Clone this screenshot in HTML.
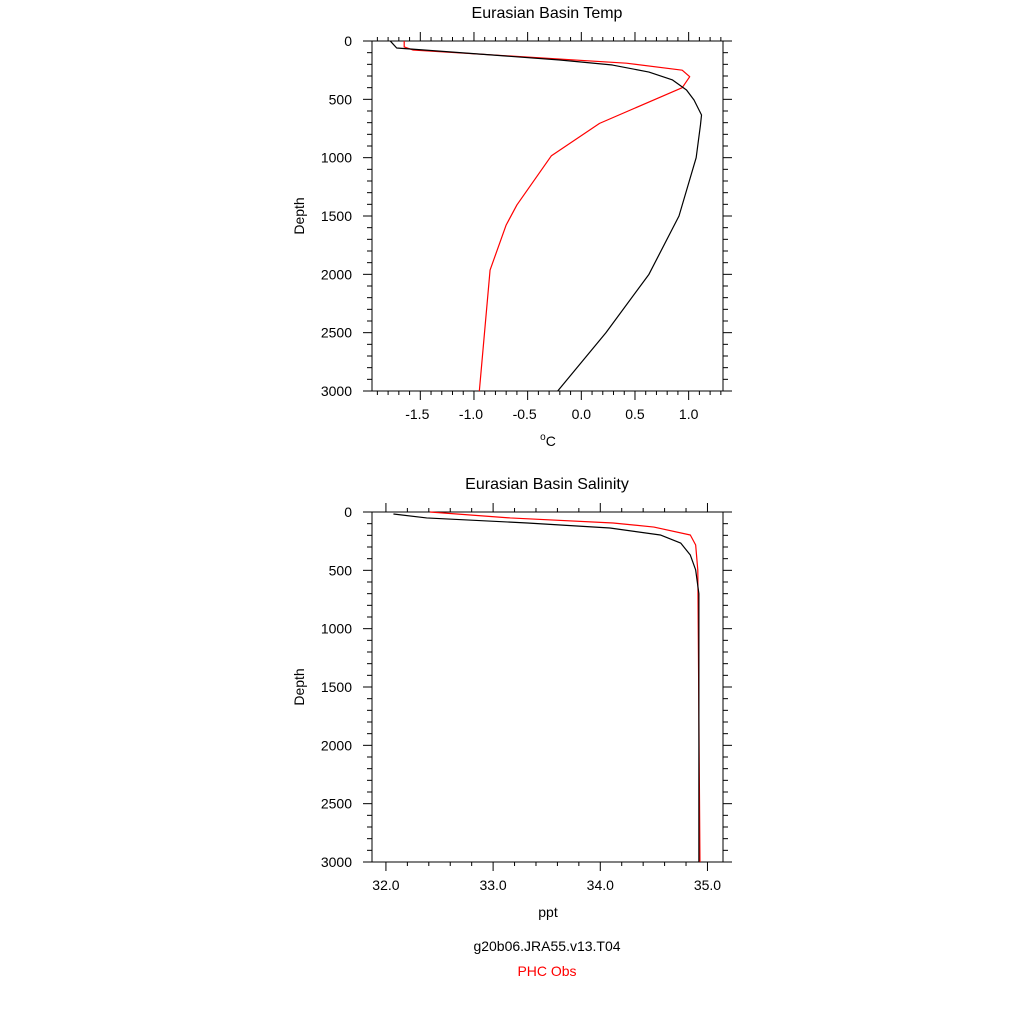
<!DOCTYPE html>
<html><head><meta charset="utf-8"><style>
body{margin:0;background:#fff}
svg text{font-family:"Liberation Sans",sans-serif}
</style></head><body>
<svg id="c" width="1024" height="1024" xmlns="http://www.w3.org/2000/svg">
<rect width="1024" height="1024" fill="#fff"/>
<g id="g"></g>
</svg>
<script>
// Temperature panel data
const tempModelDepth=[0,20,60,120,163,206,266,334,420,506,634,720,1000,1500,2000,2500,3000];
const tempModelVal=[-1.78,-1.76,-1.72,-0.83,-0.2,0.29,0.63,0.85,0.98,1.05,1.12,1.11,1.07,0.91,0.63,0.23,-0.22];
const tempObsDepth=[0,51,77,190,250,306,400,706,985,1405,1577,1963,3000];
const tempObsVal=[-1.65,-1.65,-1.57,0.42,0.94,1.01,0.94,0.17,-0.28,-0.6,-0.7,-0.85,-0.95];
// Salinity panel data
const salModelDepth=[17,51,94,137,197,266,369,497,700,3000];
const salModelVal=[32.07,32.38,33.32,34.09,34.56,34.75,34.84,34.89,34.92,34.92];
const salObsDepth=[0,51,94,129,197,283,500,3000];
const salObsVal=[32.41,33.16,34.12,34.5,34.84,34.89,34.91,34.93];
const tempTicks=[-1.5,-1.0,-0.5,0.0,0.5,1.0];
const tempTickLabels=["-1.5","-1.0","-0.5","0.0","0.5","1.0"];
const salTicks=[32,33,34,35];
const salTickLabels=["32.0","33.0","34.0","35.0"];
const depthTicks=[0,500,1000,1500,2000,2500,3000];

const NS="http://www.w3.org/2000/svg";
const G=document.getElementById('g');
function mk(tag,attrs,parent){const e=document.createElementNS(NS,tag);for(const k in attrs)e.setAttribute(k,attrs[k]);(parent||G).appendChild(e);return e;}

function panel(o){
  const L=372,R=723,T=o.top,B=o.top+350;
  const sx=v=>L+(v-o.xmin)/(o.xmax-o.xmin)*(R-L);
  const sy=d=>T+d/3000*(B-T);
  const grp=mk('g',{});
  
  
  const fr=mk('rect',{x:L,y:T,width:R-L,height:B-T,fill:'none',stroke:'#000','stroke-width':1},grp);
  
  
  // x ticks
  const first=Math.ceil(o.xmin/o.minor-1e-9)*o.minor;
  for(let v=first;v<=o.xmax+1e-9;v+=o.minor){
    const isMaj=o.ticks.some(t=>Math.abs(t-v)<1e-6);
    const len=isMaj?9:4;const x=sx(v);
    const t1=mk('line',{x1:x,x2:x,y1:T,y2:T-len,stroke:'#000'},grp);
    
    
    const t2=mk('line',{x1:x,x2:x,y1:B,y2:B+len,stroke:'#000'},grp);
    
    
  }
  o.ticks.forEach((v,i)=>{
    const t=mk('text',{x:sx(v)-(o.labels[i][0]=='-'?3:0),y:B+28,'text-anchor':'middle','font-size':14},grp);
    t.textContent=o.labels[i];
    
    
  });
  for(let d=0;d<=3000;d+=100){
    const isMaj=d%500==0;const len=isMaj?9:5;const y=sy(d);
    const a=mk('line',{x1:L,x2:L-len,y1:y,y2:y,stroke:'#000'},grp);
    
    
    const b=mk('line',{x1:R,x2:R+len,y1:y,y2:y,stroke:'#000'},grp);
    
    
  }
  depthTicks.forEach(d=>{
    const t=mk('text',{x:352,y:sy(d)+5,'text-anchor':'end','font-size':14},grp);
    t.textContent=String(d);
    
    
  });
  const ttl=mk('text',{x:547,y:T-23,'text-anchor':'middle','font-size':16},grp);
  ttl.textContent=o.title;
  
  
  const yl=mk('text',{x:0,y:0,'text-anchor':'middle','font-size':14,transform:`translate(304,${(T+B)/2}) rotate(-90)`},grp);
  yl.textContent='Depth';
  
  
  const xl=mk('text',{x:548,y:B+55,'text-anchor':'middle','font-size':14},grp);
  xl.innerHTML=o.xlabel;
  
  
  const line=(ds,vs,col,nm)=>{
    const p=mk('polyline',{points:ds.map((d,i)=>sx(vs[i])+','+sy(d)).join(' '),fill:'none',stroke:col,'stroke-width':1.2,'stroke-linejoin':'round'},grp);
    
    
  };
  line(o.od,o.ov,'#f00','obs-line');
  line(o.md,o.mv,'#000','model-line');
}
panel({name:'temp-panel',top:41,xmin:-1.95,xmax:1.32,minor:0.1,ticks:tempTicks,labels:tempTickLabels,title:'Eurasian Basin Temp',xlabel:'<tspan font-size="10" dy="-6">o</tspan><tspan dy="6">C</tspan>',md:tempModelDepth,mv:tempModelVal,od:tempObsDepth,ov:tempObsVal});
panel({name:'salinity-panel',top:512,xmin:31.87,xmax:35.145,minor:0.2,ticks:salTicks,labels:salTickLabels,title:'Eurasian Basin Salinity',xlabel:'ppt',md:salModelDepth,mv:salModelVal,od:salObsDepth,ov:salObsVal});
const l1=mk('text',{x:547,y:951,'text-anchor':'middle','font-size':14});
l1.textContent='g20b06.JRA55.v13.T04';


const l2=mk('text',{x:547,y:976,'text-anchor':'middle','font-size':14,fill:'#f00'});
l2.textContent='PHC Obs';


</script>
</body></html>
